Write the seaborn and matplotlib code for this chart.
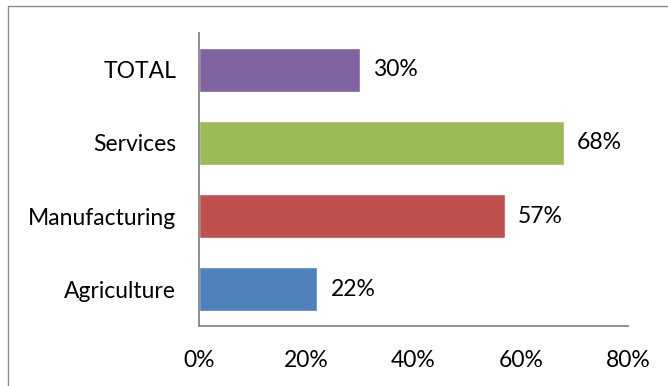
import matplotlib
matplotlib.use("Agg")
import matplotlib.pyplot as plt
from matplotlib.lines import Line2D
import seaborn as sns
import pandas as pd

categories = ["TOTAL", "Services", "Manufacturing", "Agriculture"]
shares = [30, 68, 57, 22]
colors = ["#8064A2", "#9BBB59", "#C0504D", "#4F81BD"]
x_ticks = [0, 20, 40, 60, 80]
x_tick_labels = ["0%", "20%", "40%", "60%", "80%"]

sns.set_theme(style="white")
plt.rcParams["font.family"] = ["Lato", "DejaVu Sans"]

df = pd.DataFrame({"sector": categories, "share": shares})

fig = plt.figure(figsize=(6.68, 3.86), dpi=100)
ax = fig.add_axes([199 / 668, 1 - 326 / 386, (628 - 199) / 668, (326 - 33) / 386])

sns.barplot(data=df, x="share", y="sector", hue="sector", palette=colors,
            order=categories, hue_order=categories, width=0.6,
            legend=False, ax=ax, saturation=1)

fs = 16.5
for patch, val in zip(ax.patches, shares):
    y = patch.get_y() + patch.get_height() / 2
    ax.text(val + 2.5, y, f"{val}%", va="center", ha="left", fontsize=fs,
            color="black")

ax.set_xlim(0, 80)
ax.set_ylim(3.5, -0.5)
ax.set_xticks(x_ticks)
ax.set_xticklabels(x_tick_labels)
ax.set_xlabel("")
ax.set_ylabel("")
ax.tick_params(axis="both", length=0, labelsize=fs, colors="black")
ax.tick_params(axis="x", pad=17)
ax.tick_params(axis="y", pad=16.5)

for side in ["top", "right"]:
    ax.spines[side].set_visible(False)
for side in ["left", "bottom"]:
    ax.spines[side].set_color("#868686")
    ax.spines[side].set_linewidth(1.3)

# outer chart frame
frame_color = "#8c8c8c"
fig.add_artist(Line2D([8 / 668, 8 / 668], [0, 1 - 6 / 386], transform=fig.transFigure,
                      color=frame_color, linewidth=1.0))
fig.add_artist(Line2D([8 / 668, 1], [1 - 6 / 386, 1 - 6 / 386], transform=fig.transFigure,
                      color=frame_color, linewidth=1.0))

fig.savefig("out.png", dpi=100)
